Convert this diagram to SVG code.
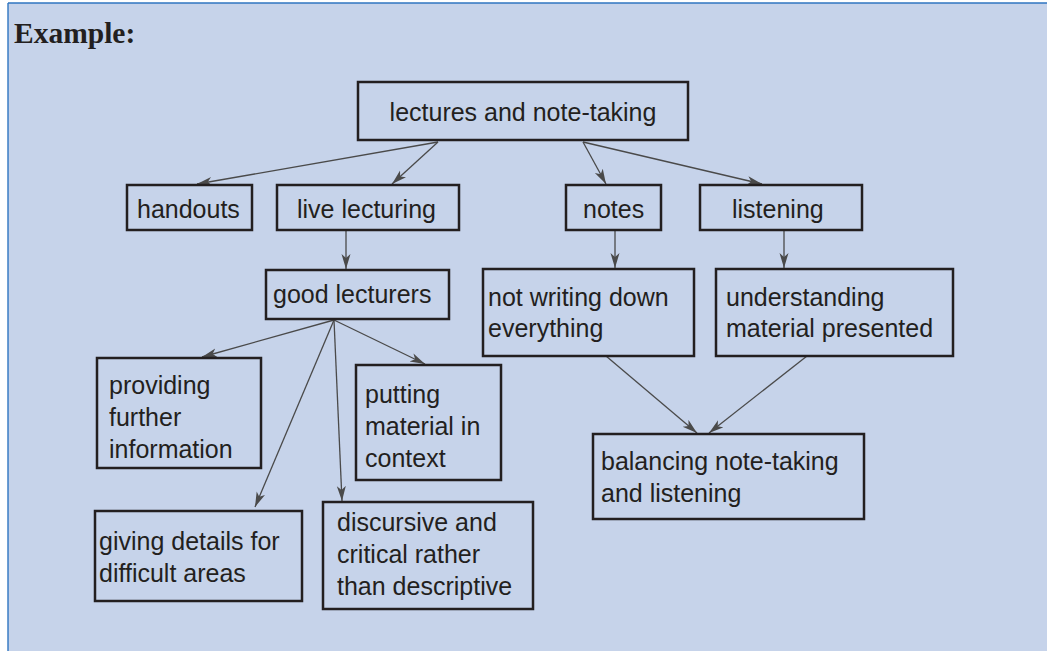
<svg xmlns="http://www.w3.org/2000/svg" width="1047" height="651" viewBox="0 0 1047 651">
<style>
.box{fill:none;stroke:#231f20;stroke-width:2.5}
.t{font-family:"Liberation Sans",Arial,sans-serif;font-size:25px;fill:#231f20}
.c{stroke:#4a4a4a;stroke-width:1.3;fill:none;marker-end:url(#ah)}
</style>
<defs>
<marker id="ah" markerUnits="userSpaceOnUse" markerWidth="16" markerHeight="10" refX="15" refY="4.5" orient="auto">
<path d="M0,0 L15,4.5 L0,9 L4,4.5 z" fill="#4a4a4a"/>
</marker>
</defs>
<rect x="0" y="0" width="1047" height="651" fill="#ffffff"/>
<rect x="8" y="3" width="1039" height="648" fill="#c6d3ea"/>
<line x1="8" y1="3" x2="1047" y2="3" stroke="#2e75c0" stroke-width="1.4"/>
<line x1="8" y1="3" x2="8" y2="651" stroke="#2e75c0" stroke-width="1.4"/>
<text x="14" y="43" font-family="'Liberation Serif','Times New Roman',serif" font-weight="bold" font-size="29.5" fill="#231f20">Example:</text>

<g id="connectors">
<line class="c" x1="438" y1="142" x2="197" y2="184"/>
<line class="c" x1="438" y1="142" x2="392" y2="184"/>
<line class="c" x1="583" y1="142" x2="606" y2="184"/>
<line class="c" x1="583" y1="142" x2="762" y2="184"/>
<line class="c" x1="346" y1="231" x2="346" y2="269"/>
<line class="c" x1="615" y1="231" x2="615" y2="268"/>
<line class="c" x1="784" y1="231" x2="784" y2="268"/>
<line class="c" x1="334" y1="320" x2="202" y2="357"/>
<line class="c" x1="334" y1="320" x2="255" y2="507"/>
<line class="c" x1="334" y1="320" x2="342" y2="501"/>
<line class="c" x1="334" y1="320" x2="425" y2="364"/>
<line class="c" x1="606" y1="356" x2="697" y2="433"/>
<line class="c" x1="807" y1="356" x2="709" y2="433"/>
</g>

<g id="lectures">
<rect class="box" x="358" y="82" width="330" height="58"/>
<text class="t" x="523" y="121" text-anchor="middle">lectures and note-taking</text>
</g>
<g id="handouts">
<rect class="box" x="127" y="185" width="125" height="45"/>
<text class="t" x="137" y="218">handouts</text>
</g>
<g id="live-lecturing">
<rect class="box" x="277" y="185" width="182" height="45"/>
<text class="t" x="297" y="218">live lecturing</text>
</g>
<g id="notes">
<rect class="box" x="566" y="185" width="95" height="45"/>
<text class="t" x="583" y="218">notes</text>
</g>
<g id="listening">
<rect class="box" x="700" y="185" width="162" height="45"/>
<text class="t" x="732" y="218">listening</text>
</g>
<g id="good-lecturers">
<rect class="box" x="266" y="270" width="183" height="49"/>
<text class="t" x="273" y="303">good lecturers</text>
</g>
<g id="not-writing">
<rect class="box" x="483" y="269" width="211" height="87"/>
<text class="t" x="488" y="306">not writing down</text>
<text class="t" x="488" y="337">everything</text>
</g>
<g id="understanding">
<rect class="box" x="716" y="269" width="237" height="87"/>
<text class="t" x="726" y="306">understanding</text>
<text class="t" x="726" y="337">material presented</text>
</g>
<g id="providing">
<rect class="box" x="97" y="358" width="164" height="110"/>
<text class="t" x="109" y="394">providing</text>
<text class="t" x="109" y="426">further</text>
<text class="t" x="109" y="458">information</text>
</g>
<g id="putting">
<rect class="box" x="356" y="365" width="145" height="115"/>
<text class="t" x="365" y="403">putting</text>
<text class="t" x="365" y="435">material in</text>
<text class="t" x="365" y="467">context</text>
</g>
<g id="balancing">
<rect class="box" x="593" y="434" width="271" height="85"/>
<text class="t" x="601" y="470">balancing note-taking</text>
<text class="t" x="601" y="502">and listening</text>
</g>
<g id="giving">
<rect class="box" x="95" y="511" width="207" height="90"/>
<text class="t" x="99" y="550">giving details for</text>
<text class="t" x="99" y="582">difficult areas</text>
</g>
<g id="discursive">
<rect class="box" x="323" y="502" width="210" height="107"/>
<text class="t" x="337" y="531">discursive and</text>
<text class="t" x="337" y="563">critical rather</text>
<text class="t" x="337" y="595">than descriptive</text>
</g>
</svg>
